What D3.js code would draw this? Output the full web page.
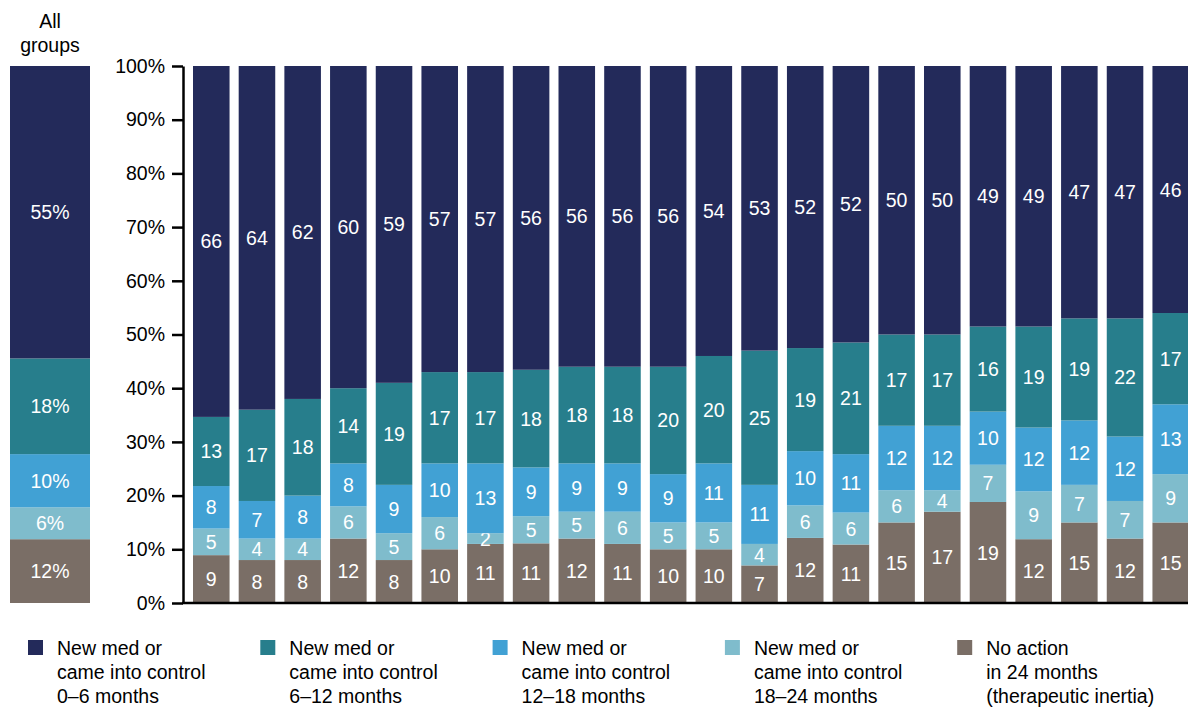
<!DOCTYPE html>
<html>
<head>
<meta charset="utf-8">
<script src="https://cdn.jsdelivr.net/npm/d3@7"></script>
<style>
  body { margin: 0; background: #fff; }
  svg text { font-family: "Liberation Sans", Arial, Helvetica, sans-serif; }
</style>
</head>
<body>
<div class="chart"></div>
<script>
const w = 1188;
const h = 707;

// series, bottom to top of each bar (percent)
const noAction = [9, 8, 8, 12, 8, 10, 11, 11, 12, 11, 10, 10, 7, 12, 11, 15, 17, 19, 12, 15, 12, 15];
const m18_24   = [5, 4, 4, 6, 5, 6, 2, 5, 5, 6, 5, 5, 4, 6, 6, 6, 4, 7, 9, 7, 7, 9];
const m12_18   = [8, 7, 8, 8, 9, 10, 13, 9, 9, 9, 9, 11, 11, 10, 11, 12, 12, 10, 12, 12, 12, 13];
const m6_12    = [13, 17, 18, 14, 19, 17, 17, 18, 18, 18, 20, 20, 25, 19, 21, 17, 17, 16, 19, 19, 22, 17];
const m0_6     = [66, 64, 62, 60, 59, 57, 57, 56, 56, 56, 56, 54, 53, 52, 52, 50, 50, 49, 49, 47, 47, 46];

// "All groups" bar, same order
const allGroups = [12, 6, 10, 18, 55];

const keys = ["noAction", "m18_24", "m12_18", "m6_12", "m0_6"];
const colors = ["#7a6e66", "#7fbccc", "#41a1d4", "#277e8c", "#232a5a"];
const legendLabels = [
  ["New med or", "came into control", "0\u20136 months"],
  ["New med or", "came into control", "6\u201312 months"],
  ["New med or", "came into control", "12\u201318 months"],
  ["New med or", "came into control", "18\u201324 months"],
  ["No action", "in 24 months", "(therapeutic inertia)"]
];
const yTicks = [0, 0.1, 0.2, 0.3, 0.4, 0.5, 0.6, 0.7, 0.8, 0.9, 1];

const rows = m0_6.map((d, i) => ({
  idx: i, noAction: noAction[i], m18_24: m18_24[i], m12_18: m12_18[i], m6_12: m6_12[i], m0_6: m0_6[i]
}));
const allRow = { idx: "all" };
keys.forEach((k, j) => allRow[k] = allGroups[j]);

const stack = d3.stack().keys(keys).offset(d3.stackOffsetExpand);
const series = stack(rows);
const allSeries = stack([allRow]);

const svg = d3.select(".chart").append("svg").attr("width", w).attr("height", h);

const y = d3.scaleLinear().domain([0, 1]).range([603, 66]);
const x = d3.scaleBand().domain(rows.map(d => d.idx)).range([193, 1189]).paddingInner(0.2).paddingOuter(0);
const xAll = d3.scaleBand().domain(["all"]).range([10, 90]);

// main bars
const layer = svg.selectAll("g.layer")
  .data(series)
  .enter().append("g")
  .attr("class", "layer")
  .attr("fill", (d, i) => colors[i]);

layer.selectAll("rect")
  .data(d => d)
  .enter().append("rect")
  .attr("x", d => x(d.data.idx))
  .attr("y", d => y(d[1]))
  .attr("width", x.bandwidth())
  .attr("height", d => y(d[0]) - y(d[1]));

layer.selectAll("text")
  .data((d, i) => d.map(s => ({ s: s, key: keys[i] })))
  .enter().append("text")
  .attr("x", d => x(d.s.data.idx) + x.bandwidth() / 2)
  .attr("y", d => (y(d.s[0]) + y(d.s[1])) / 2)
  .attr("dy", "0.36em")
  .attr("text-anchor", "middle")
  .attr("fill", "#fff")
  .style("font-size", "19.5px")
  .text(d => d.s.data[d.key]);

// all groups bar
const allLayer = svg.selectAll("g.all")
  .data(allSeries)
  .enter().append("g")
  .attr("class", "all")
  .attr("fill", (d, i) => colors[i]);

allLayer.append("rect")
  .attr("x", xAll("all"))
  .attr("y", d => y(d[0][1]))
  .attr("width", xAll.bandwidth())
  .attr("height", d => y(d[0][0]) - y(d[0][1]));

allLayer.append("text")
  .attr("x", xAll("all") + xAll.bandwidth() / 2)
  .attr("y", d => (y(d[0][0]) + y(d[0][1])) / 2)
  .attr("dy", "0.36em")
  .attr("text-anchor", "middle")
  .attr("fill", "#fff")
  .style("font-size", "19.5px")
  .text((d, i) => allGroups[i] + "%");

svg.append("text").attr("x", 50).attr("y", 28).attr("text-anchor", "middle")
  .style("font-size", "19.5px").text("All");
svg.append("text").attr("x", 50).attr("y", 52).attr("text-anchor", "middle")
  .style("font-size", "19.5px").text("groups");

// y axis
const yAxis = d3.axisLeft(y).tickValues(yTicks).tickFormat(d3.format(".0%")).tickSize(11).tickSizeOuter(0).tickPadding(7);
const gy = svg.append("g").attr("transform", "translate(183,0)").call(yAxis);
gy.select(".domain").attr("stroke", "#000").attr("stroke-width", 2.5);
gy.selectAll(".tick line").attr("stroke", "#000").attr("stroke-width", 2.5);
gy.selectAll(".tick text").style("font-size", "19.5px").attr("fill", "#000")
  .style("font-family", "'Liberation Sans', Arial, Helvetica, sans-serif");

// baseline
svg.append("line")
  .attr("x1", 182).attr("x2", 1188)
  .attr("y1", y(0)).attr("y2", y(0))
  .attr("stroke", "#000").attr("stroke-width", 2.5);

// legend
const legend = svg.selectAll("g.legend")
  .data(legendLabels)
  .enter().append("g")
  .attr("class", "legend")
  .attr("transform", (d, i) => "translate(" + (28 + i * 232.3) + ",640)");

legend.append("rect")
  .attr("width", 15).attr("height", 15)
  .attr("fill", (d, i) => colors[keys.length - 1 - i]);

legend.selectAll("text")
  .data(d => d)
  .enter().append("text")
  .attr("x", 29)
  .attr("y", (d, j) => 15 + j * 24)
  .style("font-size", "19.5px")
  .attr("fill", "#000")
  .text(d => d);
</script>
</body>
</html>
